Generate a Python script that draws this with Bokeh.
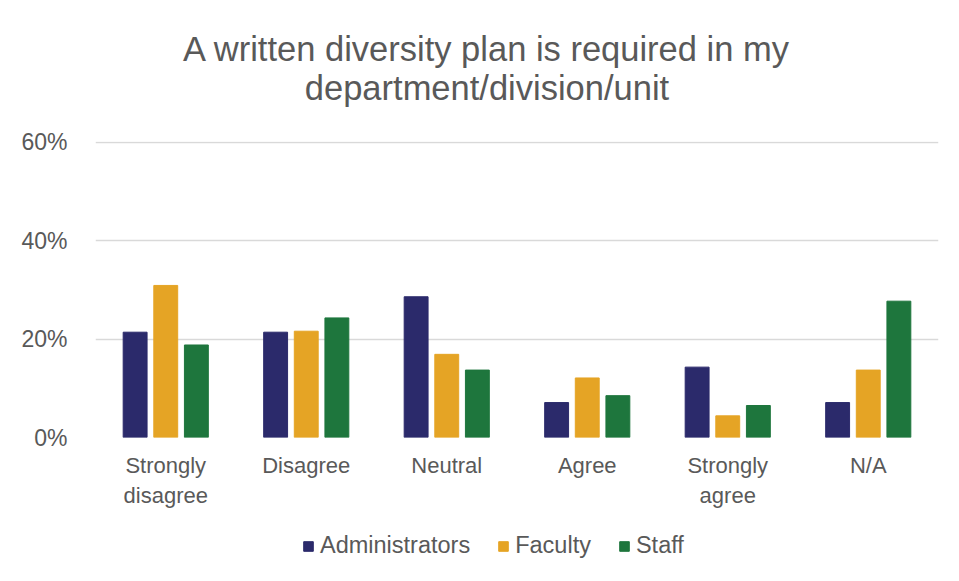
from bokeh.plotting import figure
from bokeh.layouts import column
from bokeh.models import (ColumnDataSource, FactorRange, Range1d, Legend, LegendItem,
                          NumeralTickFormatter, FixedTicker, Label)
from bokeh.transform import dodge
from bokeh.embed import file_html
from bokeh.resources import INLINE

categories = ["Strongly\ndisagree", "Disagree", "Neutral", "Agree", "Strongly\nagree", "N/A"]
administrators = [0.214, 0.214, 0.286, 0.071, 0.143, 0.071]
faculty = [0.309, 0.216, 0.169, 0.121, 0.044, 0.137]
staff = [0.188, 0.243, 0.137, 0.085, 0.065, 0.277]
series_names = ["Administrators", "Faculty", "Staff"]
colors = ["#2B2A6B", "#E5A425", "#1E763D"]
y_ticks = [0, 0.2, 0.4, 0.6]
title_lines = ["A written diversity plan is required in my", "department/division/unit"]

TEXT = "#595959"
FONT = "Liberation Sans"
W = 951
BL, BR = 95, 13

src = ColumnDataSource(dict(cat=categories, Administrators=administrators, Faculty=faculty, Staff=staff))

# ---- title figure ----
pt = figure(width=W, height=121, x_range=Range1d(0, 1), y_range=Range1d(0, 1),
            output_backend="svg", toolbar_location=None, x_axis_type=None, y_axis_type=None,
            min_border_left=BL, min_border_right=BR, min_border_top=0, min_border_bottom=0)
pt.outline_line_color = None
pt.grid.visible = False
for txt, yy in zip(title_lines, [0.603, 0.273]):
    pt.add_layout(Label(x=0.4644, y=yy, text=txt, text_align="center", text_baseline="middle",
                        text_font=FONT, text_font_size="34.5px", text_color=TEXT))

# ---- main chart ----
p = figure(width=W, height=396, x_range=FactorRange(*categories), y_range=Range1d(0, 0.6015),
           output_backend="svg", toolbar_location=None,
           min_border_left=BL, min_border_right=BR, min_border_top=20, min_border_bottom=80)

offsets = [-0.218, 0.0, 0.218]
for name, col, off in zip(series_names, colors, offsets):
    p.vbar(x=dodge("cat", off, range=p.x_range), top=name, width=0.17, source=src,
           fill_color=col, line_color=col)

p.outline_line_color = None
p.xgrid.grid_line_color = None
p.ygrid.grid_line_color = "#D9D9D9"
p.ygrid.grid_line_width = 1.5
p.yaxis.ticker = FixedTicker(ticks=y_ticks)
p.yaxis.formatter = NumeralTickFormatter(format="0%")
p.yaxis.axis_line_color = None
p.yaxis.major_tick_line_color = None
p.yaxis.minor_tick_line_color = None
p.yaxis.major_label_text_font = FONT
p.yaxis.major_label_text_font_size = "23px"
p.yaxis.major_label_text_color = TEXT
p.yaxis.major_label_standoff = 22

p.xaxis.axis_line_color = None
p.xaxis.major_tick_line_color = None
p.xaxis.minor_tick_line_color = None
p.xaxis.major_label_text_font = FONT
p.xaxis.major_label_text_font_size = "22px"
p.xaxis.major_label_text_color = TEXT
p.xaxis.major_label_standoff = 9

# ---- legend figure (bars kept below its visible range; only the key is shown) ----
pl = figure(width=W, height=56, x_range=FactorRange(*categories), y_range=Range1d(5, 6),
            output_backend="svg", toolbar_location=None, x_axis_type=None, y_axis_type=None,
            min_border_left=BL, min_border_right=BR, min_border_top=0, min_border_bottom=0)
pl.outline_line_color = None
pl.grid.visible = False
items = []
for name, col in zip(series_names, colors):
    r = pl.vbar(x="cat", top=name, width=0.17, source=src, fill_color=col, line_color=col)
    items.append(LegendItem(label=name, renderers=[r]))
legend = Legend(items=items, orientation="horizontal", location=(207, 14),
                label_text_font=FONT, label_text_font_size="23.5px", label_text_color=TEXT,
                glyph_width=12, glyph_height=12, spacing=27, label_standoff=6,
                background_fill_alpha=0, border_line_color=None, margin=0, padding=0)
pl.add_layout(legend, "center")

layout = column(pt, p, pl, spacing=0)

with open("out.html", "w") as f:
    f.write(file_html(layout, INLINE))
